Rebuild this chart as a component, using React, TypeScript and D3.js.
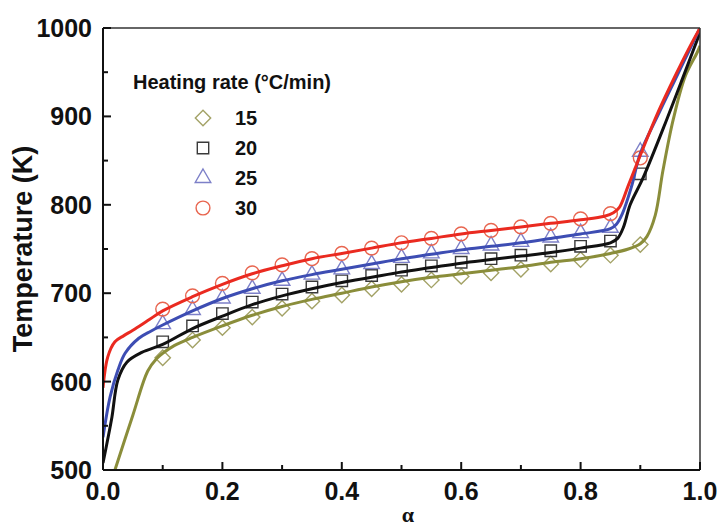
import React from 'react';
import * as d3 from 'd3';

// marker positions (conversion degree) shared by all heating rates
const markerAlpha = [0.1, 0.15, 0.2, 0.25, 0.3, 0.35, 0.4, 0.45, 0.5, 0.55, 0.6, 0.65, 0.7, 0.75, 0.8, 0.85, 0.9];

const marker15 = [627, 647, 661, 673, 683, 691, 698, 705, 710, 715, 719, 723, 727, 733, 738, 743, 755];
const marker20 = [645, 663, 677, 690, 699, 707, 714, 720, 726, 731, 735, 739, 743, 748, 753, 759, 835];
const marker25 = [665, 681, 694, 705, 714, 721, 727, 733, 740, 745, 750, 754, 758, 763, 768, 774, 860];
const marker30 = [682, 697, 711, 723, 732, 739, 745, 751, 757, 762, 767, 771, 775, 779, 784, 790, 853];

// solid curves
const line15Alpha = [0.02, 0.05, 0.075, 0.09, 0.1, 0.12, 0.15, 0.2, 0.25, 0.3, 0.35, 0.4, 0.45, 0.5, 0.55, 0.6, 0.65, 0.7, 0.75, 0.8, 0.85, 0.88, 0.9, 0.911, 0.925, 0.938, 0.955, 0.975, 0.995, 1.0];
const line15T = [500, 562, 612, 626, 632, 641, 650, 663, 675, 685, 693, 700, 707, 713, 718, 722, 726, 730, 735, 739, 745, 750, 756, 764, 788, 839, 896, 945, 972, 980];

const line20Alpha = [0, 0.008, 0.015, 0.025, 0.04, 0.065, 0.1, 0.15, 0.2, 0.25, 0.3, 0.35, 0.4, 0.45, 0.5, 0.55, 0.6, 0.65, 0.7, 0.75, 0.8, 0.85, 0.862, 0.872, 0.883, 0.905, 0.944, 0.972, 1.0];
const line20T = [508, 535, 560, 602, 622, 633, 642, 660, 674, 687, 697, 705, 712, 718, 724, 729, 734, 738, 742, 746, 751, 757, 762, 775, 800, 831, 896, 945, 995];

const line25Alpha = [0, 0.012, 0.025, 0.037, 0.06, 0.08, 0.1, 0.15, 0.2, 0.25, 0.3, 0.35, 0.4, 0.45, 0.5, 0.55, 0.6, 0.65, 0.7, 0.75, 0.8, 0.85, 0.86, 0.87, 0.885, 0.9, 0.93, 0.96, 0.98, 1.0];
const line25T = [537, 583, 613, 632, 649, 657, 664, 680, 694, 705, 714, 721, 727, 733, 739, 744, 749, 753, 757, 762, 767, 773, 778, 790, 820, 858, 902, 944, 972, 1000];

const line30Alpha = [0, 0.008, 0.02, 0.035, 0.05, 0.075, 0.1, 0.15, 0.2, 0.25, 0.3, 0.35, 0.4, 0.45, 0.5, 0.55, 0.6, 0.65, 0.7, 0.75, 0.8, 0.84, 0.855, 0.865, 0.88, 0.9, 0.93, 0.96, 0.98, 1.0];
const line30T = [593, 628, 645, 652, 658, 669, 680, 696, 710, 722, 731, 739, 745, 751, 757, 762, 767, 771, 775, 779, 783, 787, 791, 797, 822, 856, 905, 948, 975, 1000];

const legendLabels = ['15', '20', '25', '30'];
const xTicks = [0, 0.2, 0.4, 0.6, 0.8, 1.0];
const yTicks = [500, 600, 700, 800, 900, 1000];

const width = 722;
const height = 529;
const margin = { top: 28, right: 22, bottom: 59, left: 103 };

const series = [
  { label: legendLabels[0], marks: marker15, la: line15Alpha, lt: line15T, line: '#8a8d3a', mark: '#a3a266', shape: 'diamond' },
  { label: legendLabels[1], marks: marker20, la: line20Alpha, lt: line20T, line: '#111111', mark: '#3a3a3a', shape: 'square' },
  { label: legendLabels[2], marks: marker25, la: line25Alpha, lt: line25T, line: '#3d4db3', mark: '#7d80c8', shape: 'triangle' },
  { label: legendLabels[3], marks: marker30, la: line30Alpha, lt: line30T, line: '#ea2a20', mark: '#e8654f', shape: 'circle' },
];

const symbolPath = (shape: string) => {
  if (shape === 'circle') return d3.symbol().type(d3.symbolCircle).size(150)()!;
  if (shape === 'square') return d3.symbol().type(d3.symbolSquare).size(130)()!;
  if (shape === 'triangle') return d3.symbol().type(d3.symbolTriangle).size(105)()!;
  return d3.symbol().type(d3.symbolSquare).size(118)()!;
};

const Marker = ({ shape, x, y, color }: { shape: string; x: number; y: number; color: string }) => (
  <path
    d={symbolPath(shape)}
    transform={`translate(${x},${y})${shape === 'diamond' ? ' rotate(45)' : ''}`}
    fill="none"
    stroke={color}
    strokeWidth={1.4}
  />
);

export default function App() {
  const x = d3.scaleLinear().domain([0, 1]).range([margin.left, width - margin.right]);
  const y = d3.scaleLinear().domain([500, 1000]).range([height - margin.bottom, margin.top]);

  const line = d3.line<[number, number]>()
    .x(d => x(d[0]))
    .y(d => y(d[1]))
    .curve(d3.curveCatmullRom.alpha(0.5));

  const x0 = x(0), x1 = x(1), y0 = y(500), y1 = y(1000);
  const xMinor = d3.range(0.1, 1, 0.2);
  const yMinor = d3.range(550, 1000, 100);
  const font = 'Arial, "Liberation Sans", sans-serif';

  return (
    <svg width={width} height={height} style={{ position: 'absolute', left: 0, top: 0, background: '#fff' }}>
      <defs>
        <clipPath id="plot">
          <rect x={x0} y={y1} width={x1 - x0} height={y0 - y1} />
        </clipPath>
      </defs>

      {/* markers under the curves */}
      <g>
        {series.map(s =>
          s.marks.map((v, i) => (
            <Marker key={s.label + i} shape={s.shape} x={x(markerAlpha[i])} y={y(v)} color={s.mark} />
          ))
        )}
      </g>

      <g clipPath="url(#plot)">
        {series.map(s => (
          <path
            key={s.label}
            d={line(s.la.map((a, i) => [a, s.lt[i]] as [number, number]))!}
            fill="none"
            stroke={s.line}
            strokeWidth={3}
            strokeLinejoin="round"
          />
        ))}
      </g>

      {/* frame */}
      <line x1={x0} x2={x1} y1={y1} y2={y1} stroke="#333" strokeWidth={1.5} />
      <line x1={x1} x2={x1} y1={y1} y2={y0} stroke="#333" strokeWidth={1.5} />
      <line x1={x0} x2={x0} y1={y1} y2={y0} stroke="#111" strokeWidth={2} />
      <line x1={x0} x2={x1} y1={y0} y2={y0} stroke="#111" strokeWidth={2} />

      {/* x ticks */}
      {xTicks.map(t => (
        <g key={'x' + t}>
          <line x1={x(t)} x2={x(t)} y1={y0} y2={y0 - 8} stroke="#111" strokeWidth={2} />
          <text x={x(t)} y={y0 + 30} textAnchor="middle" fontFamily={font} fontWeight="bold" fontSize={25} fill="#111">
            {t.toFixed(1)}
          </text>
        </g>
      ))}
      {xMinor.map(t => (
        <line key={'xm' + t} x1={x(t)} x2={x(t)} y1={y0} y2={y0 - 5} stroke="#111" strokeWidth={2} />
      ))}

      {/* y ticks */}
      {yTicks.map(t => (
        <g key={'y' + t}>
          <line x1={x0} x2={x0 + 8} y1={y(t)} y2={y(t)} stroke="#111" strokeWidth={2} />
          <text x={x0 - 11} y={y(t) + 9} textAnchor="end" fontFamily={font} fontWeight="bold" fontSize={25} fill="#111">
            {t}
          </text>
        </g>
      ))}
      {yMinor.map(t => (
        <line key={'ym' + t} x1={x0} x2={x0 + 5} y1={y(t)} y2={y(t)} stroke="#111" strokeWidth={2} />
      ))}

      {/* axis titles */}
      <text
        transform={`translate(32,${(y0 + y1) / 2}) rotate(-90)`}
        textAnchor="middle"
        fontFamily={font}
        fontWeight="bold"
        fontSize={27}
        fill="#111"
      >
        Temperature (K)
      </text>
      <text x={408} y={522} textAnchor="middle" fontFamily='"Liberation Serif", "Times New Roman", serif' fontWeight="bold" fontSize={22} fill="#111">
        α
      </text>

      {/* legend */}
      <text x={133} y={89} fontFamily={font} fontWeight="bold" fontSize={20} fill="#111">
        Heating rate (°C/min)
      </text>
      {series.map((s, i) => (
        <g key={'lg' + s.label} transform={`translate(0,${118 + i * 30})`}>
          <Marker shape={s.shape} x={203} y={0} color={s.mark} />
          <text x={235} y={7} fontFamily={font} fontWeight="bold" fontSize={20} fill="#111">
            {s.label}
          </text>
        </g>
      ))}
    </svg>
  );
}
